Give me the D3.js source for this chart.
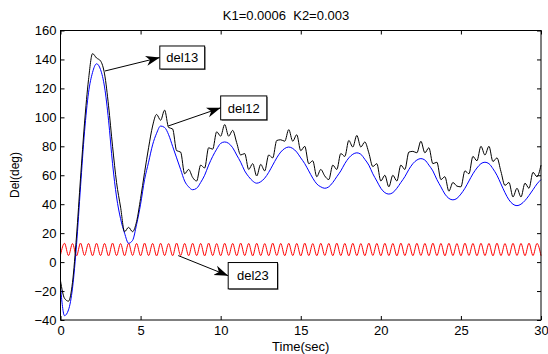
<!DOCTYPE html>
<html>
<head>
<meta charset="utf-8">
<script src="https://cdn.jsdelivr.net/npm/d3@7"></script>
<style>
  body { margin: 0; background: #fff; }
  text { font-family: "Liberation Sans", Arial, sans-serif; fill: #000; }
</style>
</head>
<body>
<div class="chart"></div>
<script>
// sample step of the simulation output (sec)
const step = 0.25;

// del12 (blue), every 0.25 s
const del12 = [
  -17, -37, -33, -18, 12, 52, 90, 117, 131, 137,
  133, 121, 98, 68, 45, 30, 20, 13, 15, 26,
  40, 57, 69, 81, 89, 94, 93, 88, 80, 72,
  64, 56, 52, 50, 51, 55, 60, 67, 73, 78,
  82, 83, 82, 79, 74, 69, 63, 59, 56, 54.5,
  55.5, 58, 62, 67, 72, 76, 78.5, 79.5, 78.5, 76,
  72, 68, 63, 58, 54, 52, 51, 52, 55, 59,
  63, 68, 72, 74.5, 75.5, 74.5, 71, 67, 61, 56,
  51, 48, 47, 48, 51, 55, 59, 64, 68, 70.5,
  71.5, 70.5, 67, 63, 57, 52, 47, 44, 43, 44,
  47, 51, 56, 61, 65, 68, 69, 68, 64.5, 60,
  54, 48, 43, 40, 39, 40, 42.5, 46, 50, 54,
  57
];

// del13 (black)
const del13 = [
  -13, -25, -27, -14, 18, 58, 96, 126, 144, 141,
  139, 130, 108, 80, 55, 38, 21, 24, 21, 28,
  44, 62, 79, 94, 102, 98, 105, 93, 92, 77,
  76, 61, 64, 58.5, 56, 67, 65, 79, 78, 90,
  87, 95, 87, 91, 82.5, 74, 75, 64, 68, 59.5,
  67.5, 63, 74, 72, 84, 84.5, 83.5, 91.5, 83.5, 88,
  77, 80, 68, 70, 59, 64, 59.5, 57, 67, 64,
  75, 73, 84, 79.5, 87.5, 79.5, 83, 75.5, 66, 68,
  56, 60, 52, 60, 56, 67, 64, 76, 76.5, 75.5,
  83.5, 75.5, 79, 68, 69, 57, 59, 49, 55, 52.5,
  52, 63, 61, 73, 70, 80, 74, 80, 69.5, 72,
  62.5, 53, 55, 45, 51, 45, 54.5, 51, 62, 59,
  67
];

// del23 (red)
const del23 = [
  5, 13, 4.5, 12.8, 4.3, 13.1, 4.6, 12.9, 4.4, 13,
  4.5, 12.9, 4.3, 13.1, 4.5, 12.8, 4.4, 13, 4.6, 12.9,
  4.4, 13.1, 4.5, 12.9, 4.3, 13, 4.5, 12.8, 4.4, 13.1,
  4.6, 12.9, 4.4, 13, 4.5, 12.9, 4.3, 13.1, 4.5, 12.8,
  4.4, 13, 4.6, 12.9, 4.4, 13.1, 4.5, 12.9, 4.3, 13,
  4.5, 12.8, 4.4, 13.1, 4.6, 12.9, 4.4, 13, 4.5, 12.9,
  4.3, 13.1, 4.5, 12.8, 4.4, 13, 4.6, 12.9, 4.4, 13.1,
  4.5, 12.9, 4.3, 13, 4.5, 12.8, 4.4, 13.1, 4.6, 12.9,
  4.4, 13, 4.5, 12.9, 4.3, 13.1, 4.5, 12.8, 4.4, 13,
  4.6, 12.9, 4.4, 13.1, 4.5, 12.9, 4.3, 13, 4.5, 12.8,
  4.4, 13.1, 4.6, 12.9, 4.4, 13, 4.5, 12.9, 4.3, 13.1,
  4.5, 12.8, 4.4, 13, 4.6, 12.9, 4.4, 13.1, 4.5, 12.9,
  4.4
];

const xTicks = [0, 5, 10, 15, 20, 25, 30];
const yTicks = [-40, -20, 0, 20, 40, 60, 80, 100, 120, 140, 160];

// text arrows: tail point, label box (data units)
const notes = [
  { label: "del13", tail: [2.77, 132], box: [6.2, 9.0, 149.3, 133.4] },
  { label: "del12", tail: [6.72, 94], box: [10.0, 12.88, 114.8, 98.3] },
  { label: "del23", tail: [7.35, 4.5], box: [10.47, 13.55, -0.3, -18.5] }
];

const W = 548, H = 354;
const M = { top: 30.5, right: 7, bottom: 34, left: 60.5 };

const svg = d3.select(".chart").append("svg")
  .attr("width", W).attr("height", H);

const x = d3.scaleLinear().domain([0, 30]).range([M.left, W - M.right]);
const y = d3.scaleLinear().domain([-40, 160]).range([H - M.bottom, M.top]);

const defs = svg.append("defs");
defs.append("marker")
  .attr("id", "head")
  .attr("markerUnits", "userSpaceOnUse")
  .attr("markerWidth", 16).attr("markerHeight", 12)
  .attr("viewBox", "0 -6 16 12")
  .attr("refX", 14).attr("refY", 0)
  .attr("orient", "auto")
  .append("path")
  .attr("d", "M0,-5 L14,0 L0,5 L4,0 Z")
  .attr("fill", "#000");

// axes, ticks pointing inward
const tick = 4;
svg.append("g")
  .attr("transform", `translate(0,${y(-40)})`)
  .call(d3.axisBottom(x).tickValues(xTicks).tickSizeInner(-tick).tickSizeOuter(0).tickPadding(6))
  .call(g => g.select(".domain").remove())
  .call(g => g.selectAll("text").style("font-size", "13px"));

svg.append("g")
  .attr("transform", `translate(0,${y(160)})`)
  .call(d3.axisTop(x).tickValues(xTicks).tickSizeInner(-tick).tickSizeOuter(0).tickFormat(""))
  .call(g => g.select(".domain").remove());

svg.append("g")
  .attr("transform", `translate(${x(0)},0)`)
  .call(d3.axisLeft(y).tickValues(yTicks).tickSizeInner(-tick).tickSizeOuter(0).tickPadding(4))
  .call(g => g.select(".domain").remove())
  .call(g => g.selectAll("text").style("font-size", "13px"));

svg.append("g")
  .attr("transform", `translate(${x(30)},0)`)
  .call(d3.axisRight(y).tickValues(yTicks).tickSizeInner(-tick).tickSizeOuter(0).tickFormat(""))
  .call(g => g.select(".domain").remove());

svg.selectAll(".tick line").attr("stroke", "#000");

// curves
const line = d3.line()
  .x((d, i) => x(i * step))
  .y(d => y(d))
  .curve(d3.curveMonotoneX);

const series = [
  { data: del23, color: "#ff0000" },
  { data: del12, color: "#0000ff" },
  { data: del13, color: "#000000" }
];

svg.selectAll(".curve")
  .data(series)
  .enter()
  .append("path")
  .attr("class", "curve")
  .attr("d", d => line(d.data))
  .attr("fill", "none")
  .attr("stroke", d => d.color)
  .attr("stroke-width", 1);

// plot frame
svg.append("rect")
  .attr("x", x(0)).attr("y", y(160))
  .attr("width", x(30) - x(0)).attr("height", y(-40) - y(160))
  .attr("fill", "none").attr("stroke", "#000").attr("stroke-width", 1);

// annotations
const ann = svg.selectAll(".note").data(notes).enter().append("g").attr("class", "note");

ann.append("line")
  .attr("x1", d => x(d.tail[0])).attr("y1", d => y(d.tail[1]))
  .attr("x2", d => x(d.box[0])).attr("y2", d => (y(d.box[2]) + y(d.box[3])) / 2)
  .attr("stroke", "#000").attr("stroke-width", 1)
  .attr("marker-end", "url(#head)");

ann.append("rect")
  .attr("x", d => x(d.box[0]) + 1).attr("y", d => y(d.box[2]) + 1)
  .attr("width", d => x(d.box[1]) - x(d.box[0]))
  .attr("height", d => y(d.box[3]) - y(d.box[2]))
  .attr("fill", "#777");

ann.append("rect")
  .attr("x", d => x(d.box[0])).attr("y", d => y(d.box[2]))
  .attr("width", d => x(d.box[1]) - x(d.box[0]))
  .attr("height", d => y(d.box[3]) - y(d.box[2]))
  .attr("fill", "#fff").attr("stroke", "#000").attr("stroke-width", 1);

ann.append("text")
  .attr("x", d => (x(d.box[0]) + x(d.box[1])) / 2)
  .attr("y", d => (y(d.box[2]) + y(d.box[3])) / 2)
  .attr("dy", "0.36em")
  .attr("text-anchor", "middle")
  .style("font-size", "13px")
  .text(d => d.label);

// titles
svg.append("text")
  .attr("x", 286).attr("y", 20)
  .attr("text-anchor", "middle")
  .style("font-size", "13px")
  .style("white-space", "pre")
  .text("K1=0.0006  K2=0.003");

svg.append("text")
  .attr("x", (x(0) + x(30)) / 2).attr("y", 351)
  .attr("text-anchor", "middle")
  .style("font-size", "13px")
  .text("Time(sec)");

svg.append("text")
  .attr("transform", "translate(19,175) rotate(-90)")
  .attr("text-anchor", "middle")
  .style("font-size", "12px")
  .text("Del(deg)");
</script>
</body>
</html>
